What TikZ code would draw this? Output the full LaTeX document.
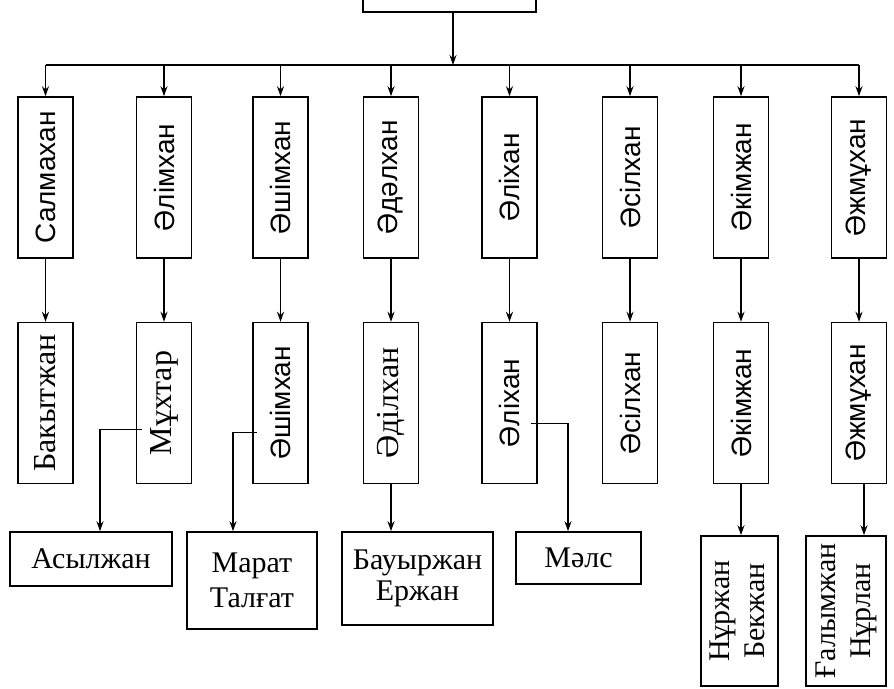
\documentclass[tikz,border=0pt]{standalone}
\usepackage{fontspec}
\usepackage{graphicx}
\setmainfont{Liberation Serif}
\newfontfamily\sansname{Liberation Sans}
\usetikzlibrary{arrows.meta, positioning}

\begin{document}
\begin{tikzpicture}[
    x=0.5pt, y=-0.5pt,
    namebox/.style={rectangle, draw, line width=0.8pt, minimum width=27.5pt, minimum height=80.5pt, inner sep=0pt},
    leafbox/.style={rectangle, draw, line width=0.8pt, inner sep=0pt, align=center, font=\fontsize{15}{17.5}\selectfont\rmfamily},
    rmtext/.style={font=\fontsize{16}{18}\selectfont\rmfamily},
    sftext/.style={font=\fontsize{14}{17}\selectfont\sansname},
    arrow/.style={-{Stealth[length=5pt, width=3.5pt]}, line width=0.8pt},
    line/.style={line width=0.8pt}
]
\useasboundingbox (0,0) rectangle (894,689);
\clip (0,0) rectangle (894,689);

\node[draw, line width=0.8pt, minimum width=86.5pt, minimum height=30pt] (root) at (449.5,-18) {};
\coordinate (bus) at (0,65);

\foreach \i/\x/\name in {1/45.5/Салмахан, 2/164/Әлімхан, 3/280.5/Әшімхан, 4/391/Әдәлхан,
                          5/509.5/Әліхан, 6/630/Әсілхан, 7/741/Әкімжан, 8/859/Әжмұхан}
    \node[namebox, sftext] (r1-\i) at (\x,177.5) {\rotatebox{90}{\name}};

\foreach \i/\name/\fam in {1/Бакытжан/rmtext, 2/Мұхтар/rmtext, 3/Әшімхан/sftext, 4/Әділхан/rmtext,
                            5/Әліхан/sftext, 6/Әсілхан/sftext, 7/Әкімжан/sftext, 8/Әжмұхан/sftext}
    \node[namebox, \fam, below=31.5pt of r1-\i] (r2-\i) {\rotatebox{90}{\name}};

\node[leafbox, minimum width=81pt, minimum height=27pt] (asyl) at (91,559) {Асылжан};
\node[leafbox, minimum width=65pt, minimum height=48.5pt] (marat) at (252,580.5) {Марат\\Талғат};
\node[leafbox, minimum width=75.5pt, minimum height=46.5pt, font=\fontsize{15}{15.5}\selectfont\rmfamily] (bauyr) at (417.5,578.5) {Бауыржан\\Ержан};
\node[leafbox, minimum width=62.5pt, minimum height=26pt] (mals) at (578.5,558) {Мәлс};
\node[leafbox, minimum width=38.5pt, minimum height=75pt] (nurzh) at (739.5,611)
    {\rotatebox{90}{\begin{tabular}{@{}c@{}}Нұржан\\Бекжан\end{tabular}}};
\node[leafbox, minimum width=40pt, minimum height=75pt] (galym) at (846,611)
    {\rotatebox{90}{\begin{tabular}{@{}c@{}}Ғалымжан\\Нұрлан\end{tabular}}};

\draw[line] (r1-1.north |- bus) -- (r1-8.north |- bus);
\draw[arrow] ([xshift=1.75pt]root.south) -- ([xshift=1.75pt]root.south |- bus);

\foreach \i in {1,...,8} {
    \draw[arrow] (r1-\i.north |- bus) -- (r1-\i.north);
    \draw[arrow] (r1-\i.south) -- (r2-\i.north);
}

\draw[arrow] ([shift={(6,26.5)}]r2-2.west) -| ([xshift=4.5pt]asyl.north);
\draw[arrow] ([shift={(5,29.5)}]r2-3.west) -| ([xshift=-9.5pt]marat.north);
\draw[arrow] (r2-4.south) -- (r2-4.south |- bauyr.north);
\draw[arrow] ([shift={(-7,20.5)}]r2-5.east) -| ([xshift=-5.25pt]mals.north);
\draw[arrow] (r2-7.south) -- (r2-7.south |- nurzh.north);
\draw[arrow] ([xshift=2.5pt]r2-8.south) -- ([xshift=2.5pt]r2-8.south |- galym.north);

\end{tikzpicture}
\end{document}
